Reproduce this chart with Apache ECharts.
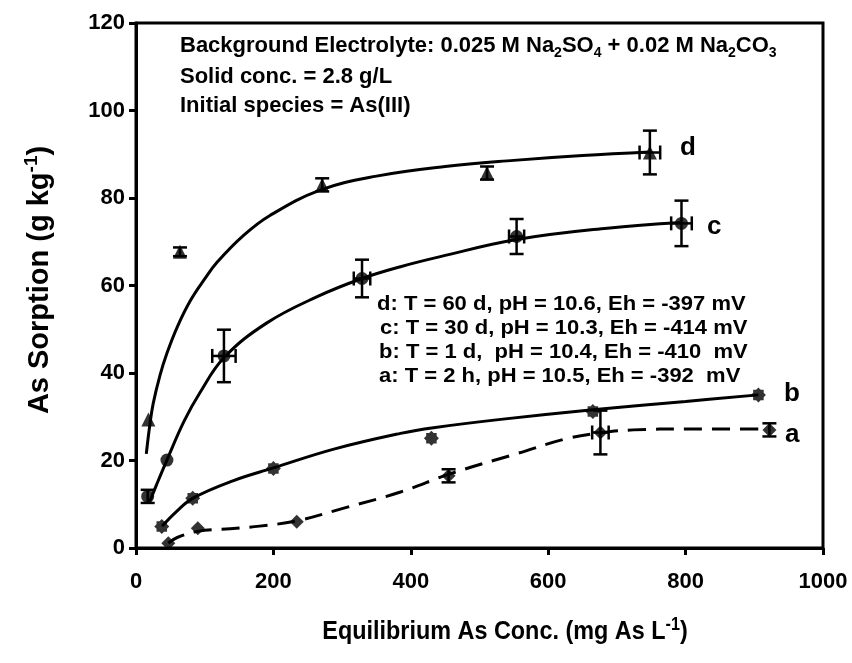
<!DOCTYPE html>
<html>
<head>
<meta charset="utf-8">
<script src="https://cdn.jsdelivr.net/npm/echarts@6/dist/echarts.min.js"></script>
<style>
  html, body { margin: 0; padding: 0; background: #fff; }
  #chart { width: 852px; height: 663px; }
</style>
</head>
<body>
<div id="chart"></div>
<script>
// Measured points: x = equilibrium As conc. (mg/L), y = As sorption (g/kg)
const dX = [18, 64, 271, 511, 748];
const dY = [29.4, 67.7, 83.0, 85.7, 90.4];
const dXErr = [0, 0, 0, 0, 15];
const dYErr = [0, 1, 1.5, 1.5, 5];

const cX = [17, 45, 128, 329, 554, 794];
const cY = [11.8, 20.1, 43.9, 61.6, 71.2, 74.2];
const cXErr = [0, 0, 17, 12, 11, 15];
const cYErr = [1.5, 0, 6, 4.3, 4, 5.2];

const bX = [37.5, 82.6, 200, 430, 665, 906];
const bY = [4.9, 11.4, 18.2, 25.1, 31.2, 35.0];
const bXErr = [0, 0, 0, 0, 0, 0];
const bYErr = [0, 0, 0, 0, 0, 0];

const aX = [47, 90, 234, 455, 676, 922];
const aY = [1.1, 4.5, 6.0, 16.5, 26.4, 27.0];
const aXErr = [0, 0, 0, 0, 12, 0];
const aYErr = [0, 0, 0, 1.5, 5, 1.5];

// Fitted isotherm curves
const dFitX = [15, 20, 25, 35, 45, 60, 79, 100, 118, 157, 195, 268, 350, 450, 550, 650, 748];
const dFitY = [21.5, 28, 33, 39.5, 44.5, 50.5, 56.5, 61.5, 65.3, 71.5, 76, 81.8, 85, 87.2, 88.6, 89.7, 90.5];

const cFitX = [20, 30, 45, 70, 93, 128, 190, 263, 329, 385, 443, 554, 686, 794];
const cFitY = [10.6, 14.5, 20.1, 29, 35.5, 43.5, 51.4, 57.4, 61.6, 64.3, 66.6, 70.5, 73.1, 74.4];

const bFitX = [38, 60, 83, 140, 200, 288, 385, 433, 531, 665, 800, 906];
const bFitY = [5, 8.5, 11.4, 15.3, 18.3, 22.6, 26.2, 27.5, 29.4, 31.6, 33.5, 35];

const aFitX = [47, 60, 90, 137, 180, 234, 300, 385, 458, 555, 627, 676, 724, 800, 922];
const aFitY = [1.1, 2.4, 3.8, 4.4, 5.0, 6.2, 9.0, 12.8, 17.0, 21.6, 25.0, 26.3, 27.0, 27.2, 27.2];

// Axis ticks
const xTicks = [0, 200, 400, 600, 800, 1000];
const yTicks = [0, 20, 40, 60, 80, 100, 120];

const zip = (xs, ys) => xs.map((x, i) => [x, ys[i]]);
const zipErr = (xs, ys, ex, ey) => xs.map((x, i) => [x, ys[i], ex[i], ey[i]]);

const SANS = '"Liberation Sans", Arial, Helvetica, sans-serif';

const starPath = 'path://M0,-10 L3,-7 L7,-7 L7,-3 L10,0 L7,3 L7,7 L3,7 L0,10 L-3,7 L-7,7 L-7,3 L-10,0 L-7,-3 L-7,-7 L-3,-7 Z';

function errorBars(api) {
  const x = api.value(0), y = api.value(1), ex = api.value(2), ey = api.value(3);
  const children = [];
  const cap = 7;
  const style = { stroke: '#000', lineWidth: 2.5 };
  if (ey > 0) {
    const top = api.coord([x, y + ey]);
    const bot = api.coord([x, y - ey]);
    children.push({ type: 'line', shape: { x1: top[0], y1: top[1], x2: bot[0], y2: bot[1] }, style });
    children.push({ type: 'line', shape: { x1: top[0] - cap, y1: top[1], x2: top[0] + cap, y2: top[1] }, style });
    children.push({ type: 'line', shape: { x1: bot[0] - cap, y1: bot[1], x2: bot[0] + cap, y2: bot[1] }, style });
  }
  if (ex > 0) {
    const l = api.coord([x - ex, y]);
    const r = api.coord([x + ex, y]);
    children.push({ type: 'line', shape: { x1: l[0], y1: l[1], x2: r[0], y2: r[1] }, style });
    children.push({ type: 'line', shape: { x1: l[0], y1: l[1] - cap, x2: l[0], y2: l[1] + cap }, style });
    children.push({ type: 'line', shape: { x1: r[0], y1: r[1] - cap, x2: r[0], y2: r[1] + cap }, style });
  }
  return { type: 'group', children };
}

function fitLine(name, xs, ys, dashed) {
  return {
    name, type: 'line', data: zip(xs, ys), smooth: 0.4, symbol: 'none', z: 2,
    lineStyle: { color: '#000', width: 3, type: dashed ? [18, 10] : 'solid' }
  };
}
function pts(name, xs, ys, symbol, size) {
  return {
    name, type: 'scatter', data: zip(xs, ys), symbol, symbolSize: size, z: 4,
    itemStyle: { color: '#000' }
  };
}
function errs(xs, ys, ex, ey) {
  return { type: 'custom', renderItem: (p, api) => errorBars(api), data: zipErr(xs, ys, ex, ey), z: 3 };
}

const chart = echarts.init(document.getElementById('chart'), null, { renderer: 'canvas' });

const txt = (size) => ({ fontSize: size, fontWeight: 'bold', fontFamily: SANS, color: '#000' });
const supStyle = (size) => Object.assign(txt(size), { lineHeight: size + 2, verticalAlign: 'top' });
const subStyle = (size) => Object.assign(txt(size), { lineHeight: size + 2, verticalAlign: 'bottom' });

const noteLine = (text, left, top) => ({
  type: 'text', left, top, scaleX: 1.1,
  style: { text, fontSize: 20, fontWeight: 'bold', fontFamily: SANS, fill: '#000' }
});
const curveTag = (text, left, top) => ({
  type: 'text', left, top,
  style: { text, fontSize: 26, fontWeight: 'bold', fontFamily: SANS, fill: '#000' }
});

chart.setOption({
  animation: false,
  backgroundColor: '#fff',
  grid: { left: 136, right: 29, top: 23, bottom: 115, show: true, borderColor: '#000', borderWidth: 3 },
  xAxis: {
    type: 'value', min: xTicks[0], max: xTicks[xTicks.length - 1], interval: xTicks[1] - xTicks[0],
    splitLine: { show: false },
    axisLine: { lineStyle: { color: '#000', width: 3 } },
    axisTick: { inside: false, length: 7, lineStyle: { color: '#000', width: 3 } },
    axisLabel: { color: '#000', fontSize: 22, fontWeight: 'bold', fontFamily: SANS, margin: 23, formatter: (v) => String(v) }
  },
  yAxis: {
    type: 'value', min: yTicks[0], max: yTicks[yTicks.length - 1], interval: yTicks[1] - yTicks[0],
    splitLine: { show: false },
    axisLine: { lineStyle: { color: '#000', width: 3 } },
    axisTick: { inside: false, length: 7, lineStyle: { color: '#000', width: 3 } },
    axisLabel: { color: '#000', fontSize: 22, fontWeight: 'bold', fontFamily: SANS, margin: 11, formatter: (v) => String(v) }
  },
  series: [
    fitLine('d fit', dFitX, dFitY, false),
    fitLine('c fit', cFitX, cFitY, false),
    fitLine('b fit', bFitX, bFitY, false),
    fitLine('a fit', aFitX, aFitY, true),
    errs(dX, dY, dXErr, dYErr),
    errs(cX, cY, cXErr, cYErr),
    errs(bX, bY, bXErr, bYErr),
    errs(aX, aY, aXErr, aYErr),
    pts('d', dX, dY, 'triangle', 14),
    pts('c', cX, cY, 'circle', 13),
    pts('b', bX, bY, starPath, 15),
    pts('a', aX, aY, 'diamond', 14)
  ],
  graphic: [
    {
      type: 'text', left: 180, top: 35,
      style: {
        text: '{m|Background Electrolyte: 0.025 M Na}{s|2}{m|SO}{s|4}{m| + 0.02 M Na}{s|2}{m|CO}{s|3}',
        rich: { m: Object.assign(txt(22), { lineHeight: 28 }), s: subStyle(14) }
      }
    },
    { type: 'text', left: 180, top: 66, style: { text: 'Solid conc. = 2.8 g/L', fontSize: 22, fontWeight: 'bold', fontFamily: SANS, fill: '#000' } },
    { type: 'text', left: 180, top: 95, style: { text: 'Initial species = As(III)', fontSize: 22, fontWeight: 'bold', fontFamily: SANS, fill: '#000' } },
    noteLine('d: T = 60 d, pH = 10.6, Eh = -397 mV', 377, 294),
    noteLine('c: T = 30 d, pH = 10.3, Eh = -414 mV', 380, 318),
    noteLine('b: T = 1 d,  pH = 10.4, Eh = -410  mV', 379, 342),
    noteLine('a: T = 2 h, pH = 10.5, Eh = -392  mV', 379, 366),
    curveTag('d', 680, 135),
    curveTag('c', 707, 214),
    curveTag('b', 784, 381),
    curveTag('a', 785, 422),
    {
      type: 'text', x: 40, y: 280, rotation: Math.PI / 2,
      style: {
        text: '{m|As Sorption (g kg}{p|-1}{m|)}', align: 'center', verticalAlign: 'middle',
        rich: { m: Object.assign(txt(29), { lineHeight: 36 }), p: supStyle(19) }
      }
    },
    {
      type: 'text', x: 505, y: 632, scaleX: 0.9,
      style: {
        text: '{m|Equilibrium As Conc. (mg As L}{p|-1}{m|)}', align: 'center', verticalAlign: 'middle',
        rich: { m: Object.assign(txt(26), { lineHeight: 32 }), p: supStyle(18) }
      }
    }
  ]
});
</script>
</body>
</html>
